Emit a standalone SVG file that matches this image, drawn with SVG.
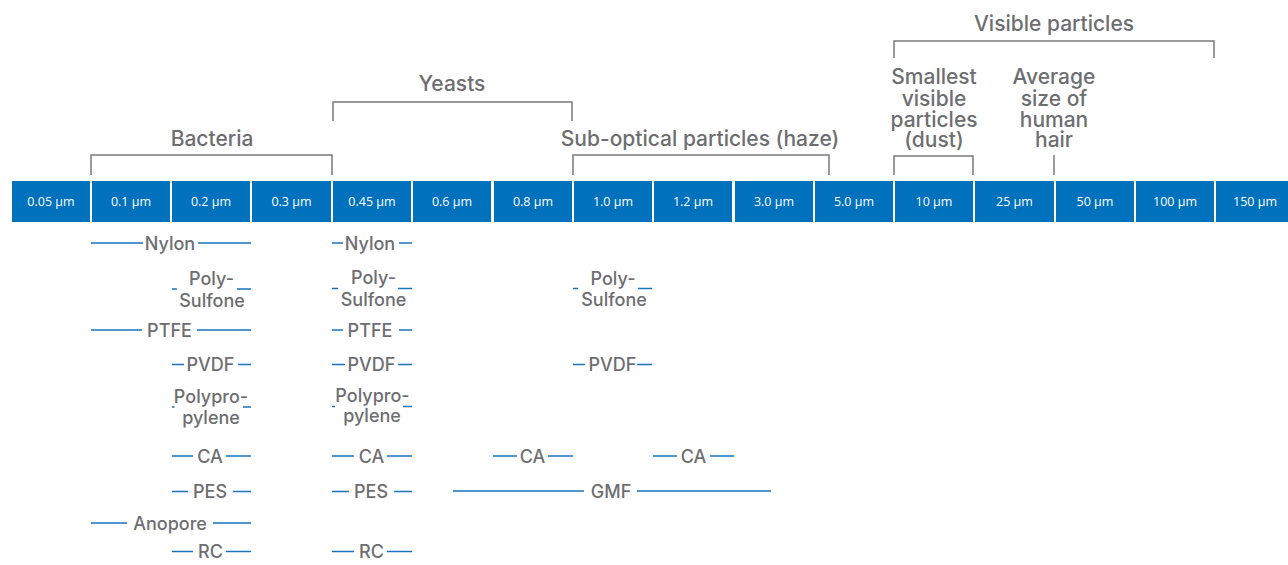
<svg xmlns="http://www.w3.org/2000/svg" width="1288" height="565" viewBox="0 0 1288 565">
<style>
.bg{fill:#ffffff}
.cell{fill:#0071bc}
.ct{font-family:"Open Sans","Liberation Sans",sans-serif;font-size:12.5px;fill:#ffffff;text-anchor:middle}
.hd{font-family:Inter,"Liberation Sans",sans-serif;font-weight:550;font-size:21px;fill:#6d6e71;text-anchor:middle}
.lb{font-family:Inter,"Liberation Sans",sans-serif;font-weight:550;font-size:18px;fill:#6d6e71;text-anchor:middle}
.br{fill:none;stroke:#7a7a7a;stroke-width:1.5}
.ln{stroke:#1a74c2;stroke-width:1.5;fill:none}
</style>
<rect class="bg" x="0" y="0" width="1288" height="565"/>
<g id="scale">
<rect class="cell" x="12" y="181" width="78" height="41"/><text class="ct" x="51" y="205.5">0.05 µm</text>
<rect class="cell" x="92" y="181" width="78" height="41"/><text class="ct" x="131" y="205.5">0.1 µm</text>
<rect class="cell" x="172" y="181" width="78" height="41"/><text class="ct" x="211" y="205.5">0.2 µm</text>
<rect class="cell" x="252" y="181" width="79" height="41"/><text class="ct" x="291.5" y="205.5">0.3 µm</text>
<rect class="cell" x="333" y="181" width="78" height="41"/><text class="ct" x="372" y="205.5">0.45 µm</text>
<rect class="cell" x="413" y="181" width="78" height="41"/><text class="ct" x="452" y="205.5">0.6 µm</text>
<rect class="cell" x="494" y="181" width="78" height="41"/><text class="ct" x="533" y="205.5">0.8 µm</text>
<rect class="cell" x="574" y="181" width="78" height="41"/><text class="ct" x="613" y="205.5">1.0 µm</text>
<rect class="cell" x="654" y="181" width="78" height="41"/><text class="ct" x="693" y="205.5">1.2 µm</text>
<rect class="cell" x="735" y="181" width="78" height="41"/><text class="ct" x="774" y="205.5">3.0 µm</text>
<rect class="cell" x="815" y="181" width="78" height="41"/><text class="ct" x="854" y="205.5">5.0 µm</text>
<rect class="cell" x="895" y="181" width="78" height="41"/><text class="ct" x="934" y="205.5">10 µm</text>
<rect class="cell" x="975" y="181" width="79" height="41"/><text class="ct" x="1014.5" y="205.5">25 µm</text>
<rect class="cell" x="1056" y="181" width="78" height="41"/><text class="ct" x="1095" y="205.5">50 µm</text>
<rect class="cell" x="1136" y="181" width="78" height="41"/><text class="ct" x="1175" y="205.5">100 µm</text>
<rect class="cell" x="1216" y="181" width="78" height="41"/><text class="ct" x="1255" y="205.5">150 µm</text>
</g>
<g id="brackets">
<g id="bacteria"><path class="br" d="M91,175 V155 H332 V175"/><text class="hd" x="212" y="146">Bacteria</text></g>
<g id="yeasts"><path class="br" d="M333,121 V102 H572 V121"/><text class="hd" x="452" y="91">Yeasts</text></g>
<g id="haze"><path class="br" d="M573,175 V155 H829 V175"/><text class="hd" x="700" y="146">Sub-optical particles (haze)</text></g>
<g id="visible"><path class="br" d="M894,58 V41 H1214 V58"/><text class="hd" x="1054" y="31">Visible particles</text></g>
<g id="dust"><path class="br" d="M894,175 V156 H973 V175"/><text class="hd" x="934"><tspan x="934" y="84">Smallest</tspan><tspan x="934" y="106">visible</tspan><tspan x="934" y="127">particles</tspan><tspan x="934" y="147">(dust)</tspan></text></g>
<g id="hair"><path class="br" d="M1054,155 V175"/><text class="hd" x="1054"><tspan x="1054" y="84">Average</tspan><tspan x="1054" y="106">size of</tspan><tspan x="1054" y="127">human</tspan><tspan x="1054" y="147">hair</tspan></text></g>
</g>
<g id="connectors">
<path class="ln" d="M91,243H143M198,243H251 M332,243H343M399,243H412"/>
<path class="ln" d="M172,289H177M237,289H251 M332,288.5H338M398,288.5H412 M573,288.5H578M638,288.5H652"/>
<path class="ln" d="M91,330H142M197,330H251 M332,330H343M399,330H412"/>
<path class="ln" d="M172,364.5H184M238,364.5H251 M332,364.5H345M398,364.5H412 M573,364.5H585M637,364.5H652"/>
<path class="ln" d="M172,407H174.5M243,407H251 M332,406.5H335M403,406.5H412"/>
<path class="ln" d="M172,456H193M226,456H251 M332,456H354M387,456H412 M493,456H517M548,456H573 M653,456H677M710,456H734"/>
<path class="ln" d="M172,491.5H188M233,491.5H251 M332,491.5H349M394,491.5H412 M453,491H584M637,491H771"/>
<path class="ln" d="M91,523H127M213,523H251"/>
<path class="ln" d="M172,551.5H193M226,551.5H251 M332,551.5H354M387,551.5H412"/>
</g>
<g id="labels">
<g id="nylon"><text class="lb" x="170" y="249.5">Nylon</text><text class="lb" x="370" y="249.5">Nylon</text></g>
<g id="polysulfone"><text class="lb"><tspan x="211.5" y="285">Poly-</tspan><tspan x="212" y="306.5">Sulfone</tspan></text><text class="lb"><tspan x="373.5" y="284">Poly-</tspan><tspan x="373.5" y="305.5">Sulfone</tspan></text><text class="lb"><tspan x="613" y="285">Poly-</tspan><tspan x="614" y="305.5">Sulfone</tspan></text></g>
<g id="ptfe"><text class="lb" x="169.5" y="336.5">PTFE</text><text class="lb" x="370" y="336.5">PTFE</text></g>
<g id="pvdf"><text class="lb" x="210.5" y="371">PVDF</text><text class="lb" x="371.5" y="371">PVDF</text><text class="lb" x="612.5" y="371">PVDF</text></g>
<g id="polypropylene"><text class="lb"><tspan x="211" y="403">Polypro-</tspan><tspan x="211" y="423.5">pylene</tspan></text><text class="lb"><tspan x="372.5" y="401.5">Polypro-</tspan><tspan x="372" y="422">pylene</tspan></text></g>
<g id="ca"><text class="lb" x="210" y="462.5">CA</text><text class="lb" x="371.5" y="462.5">CA</text><text class="lb" x="532.5" y="462.5">CA</text><text class="lb" x="693.5" y="462.5">CA</text></g>
<g id="pes"><text class="lb" x="210" y="498">PES</text><text class="lb" x="371" y="498">PES</text></g>
<g id="gmf"><text class="lb" x="611" y="497.5">GMF</text></g>
<g id="anopore"><text class="lb" x="170" y="529.5">Anopore</text></g>
<g id="rc"><text class="lb" x="210.5" y="558">RC</text><text class="lb" x="371.5" y="558">RC</text></g>
</g>
</svg>
